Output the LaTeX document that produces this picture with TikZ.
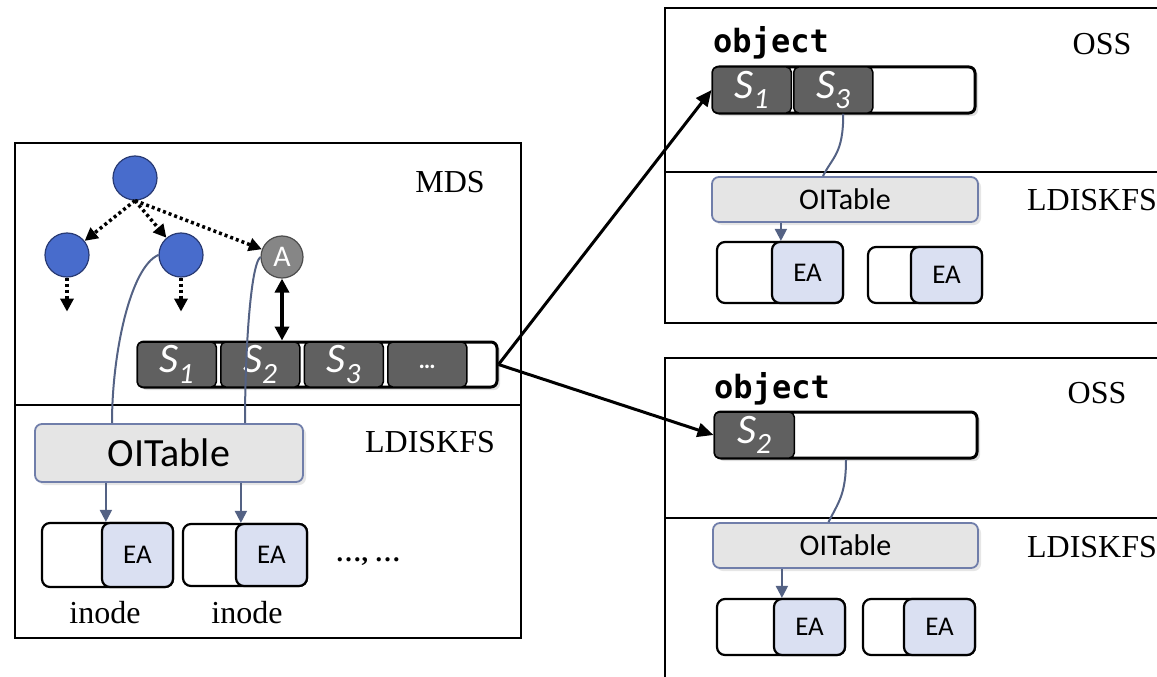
\documentclass[tikz,border=0pt]{standalone}
\usepackage{fontspec}
\setmainfont{Liberation Serif}
\setmonofont{DejaVu Sans Mono}
\newfontfamily\calib{Carlito}
\usetikzlibrary{arrows.meta,positioning,shadows}

\definecolor{nodeblue}{RGB}{72,108,204}
\definecolor{nodeedge}{RGB}{40,58,115}
\definecolor{seggray}{RGB}{96,96,96}
\definecolor{oitfill}{RGB}{229,229,229}
\definecolor{oitedge}{RGB}{112,126,170}
\definecolor{eafill}{RGB}{218,224,242}
\definecolor{linkcol}{RGB}{84,98,132}

\begin{document}
\begin{tikzpicture}[x=1pt,y=-1pt,
  panel/.style={line width=2.5pt},
  lbl/.style={font=\fontsize{32}{36}\selectfont},
  objlbl/.style={font=\ttfamily\bfseries\fontsize{32}{36}\selectfont},
  circ/.style={circle,draw=nodeedge,line width=1.2pt,fill=nodeblue,minimum size=44pt,inner sep=0},
  tree/.style={line width=3.5pt,dash pattern=on 3pt off 3pt,-{Triangle[length=13pt,width=13pt]}},
  strip/.style={draw,line width=3pt,rounded corners=6pt,fill=white,inner sep=0,
    drop shadow={shadow xshift=3pt,shadow yshift=-3pt,opacity=0.25}},
  seg/.style={draw,line width=1.5pt,rounded corners=5pt,fill=seggray,text=white,inner sep=0,
    minimum width=79pt,font=\calib\itshape\fontsize{42}{42}\selectfont},
  oit/.style={draw=oitedge,line width=1.8pt,rounded corners=7pt,fill=oitfill,inner sep=0,
    drop shadow={shadow xshift=3pt,shadow yshift=-3pt,opacity=0.2},font=\calib\fontsize{30}{30}\selectfont},
  inode/.style={draw,line width=2.2pt,rounded corners=8pt,fill=white,inner sep=0},
  eabox/.style={draw,line width=2.2pt,rounded corners=8pt,fill=eafill,inner sep=0,minimum width=71pt,
    font=\calib\fontsize{27}{27}\selectfont},
  link/.style={draw=linkcol,line width=2pt},
  linkarr/.style={link,-{Triangle[length=12pt,width=12pt]}},
  toobj/.style={line width=3pt,-{Triangle[length=16pt,width=14pt]}}]
\useasboundingbox (0,0) rectangle (1157,677);

% panels
\draw[panel] (15,143) rectangle (521,638);
\draw[panel] (15,405) -- (521,405);
\draw[panel] (1157,8) -- (665,8) -- (665,323) -- (1157,323);
\draw[panel] (665,172) -- (1157,172);
\draw[panel] (1157,358) -- (665,358) -- (665,677);
\draw[panel] (665,518) -- (1157,518);

\node[lbl] (lmds) at (450,182) {MDS};
\node[lbl] (lldk1) at (430,442) {LDISKFS};
\node[objlbl] (lobj1) at (771,43) {object};
\node[lbl] (loss1) at (1102,44) {OSS};
\node[lbl] (lldk2) at (1092,200) {LDISKFS};
\node[objlbl] (lobj2) at (772,389) {object};
\node[lbl] (loss2) at (1097,393) {OSS};
\node[lbl] (lldk3) at (1092,547) {LDISKFS};

% namespace tree
\node[circ] (root) at (135,178) {};
\node[circ] (c1) at (67,255) {};
\node[circ] (c2) at (181,255) {};
\node[circ,fill=gray!95,draw=black!70,minimum size=42pt,text=white,font=\calib\fontsize{30}{30}\selectfont] (A) at (282,257) {A};
\draw[tree] (root.south) -- (c1);
\draw[tree] (root.south) -- (c2);
\draw[tree] (root.south) -- (A);
\draw[tree] (c1.south) -- ++(0,34);
\draw[tree] (c2.south) -- ++(0,34);

% stripes
\node[strip,minimum width=359pt,minimum height=45pt] (strip1) at (317.5,364.5) {};
\node[seg,minimum height=45pt,anchor=west] (s1) at (strip1.west) {\raisebox{-3pt}{S\textsubscript{1}}};
\node[seg,minimum height=45pt,right=3pt of s1] (s2) {\raisebox{-3pt}{S\textsubscript{2}}};
\node[seg,minimum height=45pt,right=3pt of s2] (s3) {\raisebox{-3pt}{S\textsubscript{3}}};
\node[seg,minimum height=45pt,right=3pt of s3,font=\calib\bfseries\fontsize{24}{24}\selectfont] (sdots) {\raisebox{-9pt}{\dots}};
\draw[line width=4pt,{Triangle[length=14pt,width=14pt]}-{Triangle[length=14pt,width=14pt]}] (A.south) -- (A.south |- strip1.north);

\node[strip,minimum width=262pt,minimum height=46pt] (strip2) at (844,90) {};
\node[seg,minimum height=46pt,anchor=west] (o1) at (strip2.west) {\raisebox{-3pt}{S\textsubscript{1}}};
\node[seg,minimum height=46pt,right=1pt of o1] (o3) {\raisebox{-3pt}{S\textsubscript{3}}};

\node[strip,minimum width=262pt,minimum height=46pt] (strip3) at (846,435) {};
\node[seg,minimum height=46pt,minimum width=80pt,anchor=west] (o2) at (strip3.west) {\raisebox{-3pt}{S\textsubscript{2}}};

\draw[toobj] (strip1.east) -- (strip2.west);
\draw[toobj] (strip1.east) -- (strip3.west);

% OITables
\node[oit,minimum width=268pt,minimum height=58pt,font=\calib\fontsize{40}{40}\selectfont] (oit1) at (169,453) {OITable};
\node[oit,minimum width=266pt,minimum height=45pt] (oit2) at (845,199.5) {OITable};
\node[oit,minimum width=265pt,minimum height=45pt] (oit3) at (845.5,545.5) {OITable};

% inodes with EA
\foreach \i/\x/\y/\w/\h in {1/107.5/555/131/64, 2/245/555/124/62, 3/780/272.5/126/61,
    4/925/275/114/56, 5/781/627/128/56, 6/919/627/112/56}{
  \node[inode,minimum width=\w,minimum height=\h] (ino\i) at (\x,\y) {};
  \node[eabox,minimum height=\h,anchor=east] (ea\i) at (ino\i.east) {EA};
}
\node[lbl] (lino1) at (105,613) {inode};
\node[lbl] (lino2) at (247,613) {inode};
\node[font=\bfseries\fontsize{26}{30}\selectfont] (ldots) at (368,562) {\dots, \dots};

% lookups
\draw[link] (c2.west) .. controls +(-28,12) and +(0,-70) .. ([xshift=-57pt]oit1.north);
\draw[link] (A.west) .. controls +(-10,8) and +(0,-70) .. ([xshift=76pt]oit1.north);
\draw[linkarr] ([xshift=5pt]ea1.north west |- oit1.south) -- ([xshift=5pt]ea1.north west);
\draw[linkarr] ([xshift=6pt]ea2.north west |- oit1.south) -- ([xshift=6pt]ea2.north west);
\draw[link] ([xshift=10pt]o3.south) .. controls +(0,40) and +(10,-20) .. ([xshift=-22pt]oit2.north);
\draw[link] (strip3.south) .. controls +(0,35) and +(10,-20) .. ([xshift=-17pt]oit3.north);
\draw[linkarr] ([xshift=10pt]ea3.north west |- oit2.south) -- ([xshift=10pt]ea3.north west);
\draw[linkarr] ([xshift=9pt]ea5.north west |- oit3.south) -- ([xshift=9pt]ea5.north west);
\end{tikzpicture}
\end{document}
